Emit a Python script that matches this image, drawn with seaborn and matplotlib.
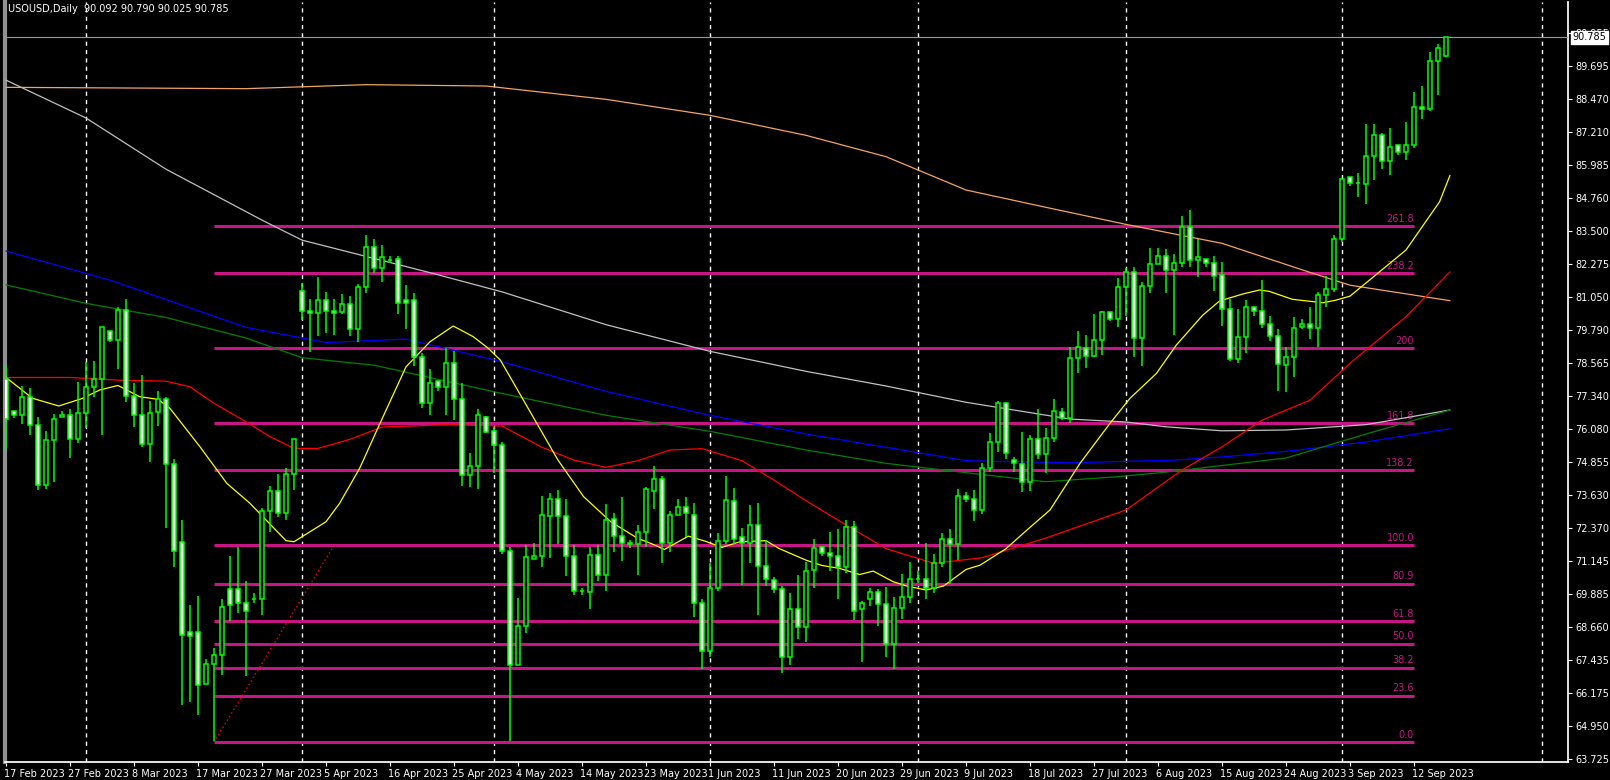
import pandas as pd
import numpy as np
import matplotlib
matplotlib.use('Agg')
import matplotlib.pyplot as plt
import matplotlib.transforms as mtransforms
import seaborn as sns

# estilo escuro tipo metatrader
sns.set_theme(style='dark', rc={'axes.facecolor': 'black', 'figure.facecolor': 'black'})
plt.rcParams['font.family'] = ['DejaVu Sans']

# --- dados (barras diárias, 17 fev -> 17 set 2023) ---
opens = [77.98, 76.77, 76.63, 77.27, 76.22, 73.97, 75.66, 76.52, 76.63, 75.73,
         76.67, 77.68, 77.98, 79.75, 79.41, 80.54, 77.31, 76.63, 75.51, 76.74,
         77.20, 74.76, 71.84, 68.46, 68.46, 66.51, 67.26, 67.63, 70.07, 70.07,
         69.56, 69.71, 69.71, 73.01, 73.75, 72.92, 74.40, 81.28, 80.50, 80.42,
         80.91, 80.50, 80.46, 80.76, 79.82, 81.40, 82.90, 82.11, 82.42, 82.45,
         80.92, 80.91, 78.80, 77.05, 77.87, 77.65, 78.55, 77.20, 74.35, 74.69,
         76.52, 76.00, 75.47, 71.51, 67.22, 68.70, 71.23, 71.31, 72.84, 73.48,
         72.81, 71.31, 70.03, 69.99, 71.35, 70.60, 72.70, 72.06, 71.83, 71.76,
         72.23, 73.78, 74.20, 71.80, 72.88, 73.18, 72.85, 69.55, 67.75, 70.11,
         71.87, 73.37, 72.02, 71.80, 72.47, 70.94, 70.41, 70.07, 67.52, 69.32,
         68.65, 70.79, 71.65, 71.42, 71.31, 70.90, 72.43, 69.32, 69.73, 69.96,
         69.51, 68.01, 69.36, 69.77, 70.45, 70.45, 70.11, 71.08, 71.95, 71.76,
         73.56, 73.48, 73.05, 74.61, 75.59, 77.05, 74.91, 74.76, 74.09, 75.70,
         75.14, 75.74, 76.71, 76.49, 78.74, 79.11, 78.81, 79.41, 80.46, 80.20,
         81.40, 81.96, 79.49, 81.44, 82.26, 82.56, 82.04, 82.30, 83.65, 82.41,
         82.48, 82.30, 81.85, 80.57, 78.73, 79.52, 80.68, 80.50, 80.01, 79.56,
         78.47, 78.77, 79.90, 80.01, 79.86, 81.10, 81.32, 83.20, 85.52, 85.32,
         85.28, 86.31, 87.13, 86.12, 86.72, 86.46, 86.72, 88.15, 88.07, 89.87,
         90.092]
highs = [78.48, 76.77, 77.70, 77.61, 76.53, 76.01, 76.65, 76.76, 76.82, 77.85,
         78.61, 78.63, 79.90, 79.75, 80.65, 80.95, 77.80, 78.10, 77.15, 77.51,
         77.27, 74.98, 72.67, 69.48, 69.82, 67.46, 67.88, 69.73, 71.32, 71.67,
         70.39, 69.92, 73.11, 73.95, 74.40, 74.61, 75.73, 81.55, 80.95, 81.77,
         81.21, 80.95, 81.15, 81.07, 81.52, 83.36, 83.23, 82.98, 82.57, 82.57,
         81.48, 81.17, 78.92, 78.33, 77.87, 79.11, 79.01, 77.82, 75.17, 76.82,
         76.57, 76.17, 75.60, 71.67, 69.76, 71.73, 71.80, 73.57, 73.67, 73.80,
         73.45, 71.72, 70.12, 71.65, 71.72, 73.27, 72.92, 73.55, 71.91, 72.47,
         73.90, 74.70, 74.32, 73.03, 73.46, 73.52, 73.33, 69.70, 71.08, 72.17,
         74.32, 73.87, 72.36, 73.23, 73.31, 71.92, 70.52, 70.20, 69.92, 70.60,
         71.11, 71.98, 71.65, 72.21, 72.32, 72.66, 72.62, 69.62, 70.12, 70.07,
         70.15, 69.78, 70.65, 71.10, 70.77, 71.81, 71.40, 72.17, 72.32, 73.83,
         73.72, 73.80, 74.80, 75.92, 77.14, 77.11, 75.05, 75.97, 75.85, 76.84,
         76.11, 77.20, 76.86, 79.15, 79.75, 79.60, 80.39, 80.50, 80.46, 81.74,
         82.11, 82.15, 81.59, 82.86, 82.86, 82.82, 82.64, 84.06, 84.29, 83.20,
         82.48, 82.56, 82.35, 80.96, 80.58, 80.92, 80.68, 81.67, 80.31, 79.82,
         79.16, 80.27, 80.23, 80.68, 81.22, 81.82, 83.36, 85.48, 85.52, 85.67,
         87.52, 87.52, 87.17, 87.37, 86.72, 87.60, 88.72, 88.95, 90.22, 90.52,
         90.790]
lows = [75.30, 76.51, 76.27, 75.86, 73.80, 73.84, 74.11, 76.52, 75.01, 75.55,
        76.11, 77.27, 75.86, 79.36, 78.35, 77.11, 76.17, 75.40, 74.86, 76.21,
        72.38, 70.90, 65.73, 65.86, 65.36, 66.51, 64.37, 66.88, 68.88, 69.17,
        66.84, 69.55, 69.13, 72.21, 72.80, 72.67, 73.80, 80.17, 78.96, 79.57,
        79.70, 79.61, 80.40, 79.58, 79.36, 81.20, 81.92, 81.61, 82.30, 80.40,
        79.85, 78.46, 76.88, 76.61, 77.52, 76.61, 76.42, 73.96, 73.92, 73.82,
        75.92, 74.42, 71.40, 64.40, 67.22, 68.42, 71.23, 70.92, 71.26, 71.76,
        70.58, 69.86, 69.86, 69.35, 70.40, 70.02, 71.48, 71.15, 71.61, 70.61,
        71.65, 73.07, 71.07, 71.48, 72.88, 72.02, 69.05, 67.07, 67.55, 70.02,
        71.76, 71.76, 70.22, 71.07, 69.12, 70.21, 69.95, 66.92, 67.23, 68.22,
        68.11, 70.13, 71.32, 70.77, 69.72, 70.67, 68.92, 67.36, 69.46, 68.71,
        67.55, 67.10, 68.98, 69.57, 70.30, 69.72, 69.92, 70.90, 70.27, 71.17,
        73.35, 72.62, 72.90, 74.49, 75.21, 74.98, 74.49, 73.73, 73.77, 74.96,
        74.45, 75.61, 76.42, 76.30, 78.17, 78.39, 78.77, 78.88, 80.15, 79.90,
        80.34, 78.80, 78.46, 81.20, 82.26, 81.20, 79.61, 82.17, 82.15, 81.77,
        82.15, 81.25, 79.96, 78.65, 78.55, 78.95, 80.33, 79.88, 79.37, 77.52,
        77.49, 78.02, 79.82, 79.45, 79.17, 80.65, 81.21, 83.11, 85.21, 84.80,
        84.53, 85.43, 85.85, 85.62, 86.38, 86.18, 86.63, 87.70, 88.02, 88.60,
        90.025]
closes = [76.48, 76.63, 77.27, 76.22, 73.97, 75.66, 76.48, 76.63, 75.73, 76.67,
          77.68, 77.98, 79.90, 79.41, 80.54, 77.31, 76.63, 75.51, 76.67, 77.20,
          74.76, 71.51, 68.35, 68.31, 66.47, 67.26, 67.63, 69.43, 69.48, 69.56,
          69.26, 69.71, 73.01, 73.75, 72.92, 74.40, 75.73, 80.50, 80.42, 80.91,
          80.50, 80.42, 80.76, 79.82, 81.40, 82.90, 82.11, 82.52, 82.42, 80.80,
          80.80, 78.80, 77.05, 77.83, 77.65, 78.55, 77.20, 74.35, 74.69, 76.60,
          75.96, 75.47, 71.51, 67.22, 68.70, 71.27, 71.32, 72.88, 73.48, 72.81,
          71.31, 70.03, 70.03, 71.35, 70.60, 72.66, 72.06, 71.83, 71.76, 72.21,
          73.82, 74.20, 71.80, 72.88, 73.18, 72.92, 69.55, 67.77, 70.11, 71.87,
          73.41, 71.98, 71.80, 72.47, 70.94, 70.45, 70.07, 67.52, 69.32, 68.68,
          70.75, 71.61, 71.42, 71.31, 70.90, 72.43, 69.28, 69.55, 69.96, 69.51,
          68.01, 69.36, 69.77, 70.45, 70.45, 70.11, 71.08, 71.95, 71.76, 73.56,
          73.48, 73.05, 74.61, 75.59, 77.05, 75.17, 74.80, 74.09, 75.70, 75.14,
          75.74, 76.75, 76.49, 78.74, 79.15, 78.81, 79.41, 80.46, 80.20, 81.40,
          81.96, 79.49, 81.44, 82.26, 82.56, 82.04, 82.30, 83.65, 82.41, 82.52,
          82.30, 81.81, 80.57, 78.73, 79.52, 80.65, 80.50, 80.01, 79.56, 78.51,
          78.77, 79.86, 80.01, 79.86, 81.10, 81.32, 83.20, 85.48, 85.33, 85.32,
          86.31, 87.13, 86.12, 86.68, 86.46, 86.72, 88.15, 88.07, 89.87, 90.36,
          90.785]

# médias móveis (lidas em alguns pontos do gráfico)
ma_yellow_x = [0, 3.3, 6.6, 9.6, 11.7, 14, 16.7, 19, 20.5, 24.25, 27.6, 30.5, 35, 36, 40,
               41.7, 44.2, 46.75, 50, 53, 55.9, 58.4, 60.3, 61.8, 69, 72.2, 75.6, 79, 80.6,
               82.3, 85.3, 87.4, 89.5, 91.75, 95, 96.6, 100, 102, 104.2, 106.7, 108.4, 110.9,
               112.6, 115, 117.2, 120, 121.75, 125, 128, 130.5, 134.25, 138, 140.5, 143.8,
               146.3, 149.6, 151.7, 154.6, 156.7, 157.9, 160.8, 162.9, 164.6, 166.25, 168,
               175, 179.2, 180.5]
ma_yellow_y = [78.02, 77.24, 76.95, 77.24, 77.55, 77.72, 77.30, 77.20, 76.86, 75.42, 74.05,
               73.30, 71.90, 71.86, 72.61, 73.30, 74.61, 76.30, 78.42, 79.36, 79.95, 79.55,
               79.11, 78.67, 74.92, 73.55, 72.61, 71.98, 71.80, 71.57, 72.07, 71.88, 71.65,
               71.86, 71.90, 71.61, 71.17, 70.97, 70.86, 70.63, 70.76, 70.36, 70.20, 70.05,
               70.20, 70.82, 70.98, 71.60, 72.40, 73.05, 74.80, 76.30, 77.24, 78.17, 79.24,
               80.36, 80.89, 81.15, 81.30, 81.25, 80.95, 80.88, 80.82, 80.92, 81.07, 82.80,
               84.61, 85.60]
ma_red_x = [0, 8, 14, 20, 23, 26, 30, 33, 36, 39, 43, 47, 55, 62, 67, 71, 75, 79, 83, 87,
            92, 96, 100, 104, 110, 116, 122, 130, 140, 147, 152, 157, 163, 168, 175, 180.5]
ma_red_y = [78.02, 78.02, 77.92, 77.88, 77.67, 77.05, 76.36, 75.80, 75.36, 75.36, 75.70,
            76.16, 76.25, 76.20, 75.40, 74.92, 74.65, 74.90, 75.30, 75.35, 74.90, 74.17,
            73.40, 72.67, 71.60, 71.05, 71.26, 72.00, 73.05, 74.55, 75.42, 76.42, 77.17,
            78.55, 80.30, 81.98]
ma_green_x = [0, 10, 20, 30, 37, 46, 62, 75, 88, 100, 110, 120, 130, 139, 145, 152, 160, 170, 180.5]
ma_green_y = [81.49, 80.80, 80.27, 79.50, 78.76, 78.48, 77.42, 76.60, 76.00, 75.30, 74.80,
              74.45, 74.11, 74.30, 74.47, 74.72, 75.00, 75.90, 76.80]
ma_blue_x = [0, 13, 30, 40, 50, 62, 75, 88, 100, 110, 120, 133, 146, 152, 160, 170, 180.5]
ma_blue_y = [82.76, 81.67, 79.90, 79.33, 79.46, 78.61, 77.50, 76.60, 75.90, 75.40, 74.90,
             74.82, 74.92, 75.04, 75.25, 75.60, 76.10]
ma_white_x = [0, 10, 20, 32, 37, 53, 62, 75, 88, 100, 110, 120, 133, 140, 145, 152, 160, 170, 180.5]
ma_white_y = [89.17, 87.75, 85.83, 83.92, 83.17, 81.95, 81.23, 80.00, 79.00, 78.25, 77.70,
              77.09, 76.46, 76.35, 76.17, 76.02, 76.05, 76.25, 76.80]
ma_orange_x = [0, 30, 45, 60, 75, 88, 100, 110, 120, 130, 140, 152, 163, 168, 180.5]
ma_orange_y = [88.90, 88.85, 89.00, 88.95, 88.45, 87.85, 87.10, 86.30, 85.05, 84.40, 83.76,
               83.05, 81.96, 81.48, 80.90]

# níveis de fibonacci
fib_labels = ['0.0', '23.6', '38.2', '50.0', '61.8', '80.9', '100.0',
              '138.2', '161.8', '200', '238.2', '261.8']
fib_prices = [64.35, 66.09, 67.14, 68.04, 68.90, 70.29, 71.72,
              74.56, 76.31, 79.13, 81.95, 83.70]

# ticks do eixo de preço
price_ticks = [63.725, 64.950, 66.175, 67.435, 68.660, 69.885, 71.145, 72.370, 73.630,
               74.855, 76.080, 77.340, 78.565, 79.790, 81.050, 82.275, 83.500, 84.760,
               85.985, 87.210, 88.470, 89.695, 90.955]
last_price = 90.785
header = 'USOUSD,Daily  90.092 90.790 90.025 90.785'

# datas das barras (domingo a sexta, sem a sexta-feira santa)
all_days = pd.date_range('2023-02-17', '2023-10-10')
bar_dates = all_days[(all_days.dayofweek != 5) & (all_days != pd.Timestamp('2023-04-07'))]
n = len(closes)
idx = np.arange(n)

fig = plt.figure(figsize=(16.1, 7.8), dpi=100)
ax = fig.add_axes([5 / 1610, 18 / 780, 1563 / 1610, 760 / 780])
ax.set_facecolor('black')

# linhas de separação mensal
month_first = [i for i in range(1, len(bar_dates)) if bar_dates[i].month != bar_dates[i - 1].month]
for i in month_first:
    ax.axvline(i, color='white', lw=1.0, ls=(0, (3, 3)), zorder=1)

# fibonacci
ax.hlines(fib_prices, 26, 176, color='#C71585', lw=2.2, zorder=2)
for lab, p in zip(fib_labels, fib_prices):
    ax.text(176, p + 0.08, lab, color='#C71585', fontsize=7, ha='right', va='bottom', zorder=3)
ax.plot([26, 41], [fib_prices[0], fib_prices[6]], color='red', lw=1, ls=(0, (1, 2)), zorder=2)

# médias móveis
for xs, ys, col in [(ma_orange_x, ma_orange_y, '#F4A460'), (ma_white_x, ma_white_y, '#C0C0C0'),
                    (ma_blue_x, ma_blue_y, '#0000FF'), (ma_green_x, ma_green_y, '#008000'),
                    (ma_red_x, ma_red_y, '#FF0000'), (ma_yellow_x, ma_yellow_y, '#FFFF00')]:
    sns.lineplot(x=xs, y=ys, color=col, lw=0.9, ax=ax, zorder=4)

# preço atual
ax.axhline(last_price, color='#8A9AAA', lw=0.8, zorder=3)

# candles
opens_a = np.array(opens)
closes_a = np.array(closes)
bull = closes_a >= opens_a
ax.vlines(idx, lows, highs, color='#00FF00', lw=1.1, zorder=5)
body_lo = np.minimum(opens_a, closes_a)
body_h = np.abs(closes_a - opens_a)
ax.bar(idx, body_h, bottom=body_lo, width=0.62,
       color=np.where(bull, 'black', 'white'), edgecolor='#00FF00', linewidth=1.1, zorder=6)

# eixos
ax.set_xlim(-0.125, 195.25)
ax.set_ylim(63.60, 92.10)
ax.yaxis.tick_right()
ax.set_yticks(price_ticks)
ax.set_yticklabels([f'{t:.3f}' for t in price_ticks])
tick_pos = list(range(0, n, 8))
ax.set_xticks(tick_pos)
ax.set_xticklabels([f'{bar_dates[i].day} {bar_dates[i]:%b %Y}' for i in tick_pos], ha='left')
ax.tick_params(axis='both', colors='white', labelcolor='white', labelsize=7,
               length=3, width=0.8, direction='out', pad=2, bottom=True, right=True)
offset = mtransforms.ScaledTranslation(-2 / 100, 0, fig.dpi_scale_trans)
for lab in ax.get_xticklabels():
    lab.set_transform(lab.get_transform() + offset)
ax.spines['top'].set_visible(False)
ax.spines['right'].set_color('white')
ax.spines['bottom'].set_color('white')
ax.spines['left'].set_color('#909090')
ax.spines['left'].set_linewidth(3)
ax.grid(False)
ax.set_xlabel('')
ax.set_ylabel('')

# caixa do último preço
trans = mtransforms.blended_transform_factory(ax.transAxes, ax.transData)
ax.text(1.003, last_price, f'{last_price:.3f}', transform=trans, fontsize=7, color='black',
        va='center', ha='left', zorder=10, clip_on=False,
        bbox=dict(boxstyle='square,pad=0.15', facecolor='white', edgecolor='white'))

ax.text(0.002, 0.997, header, transform=ax.transAxes, color='white', fontsize=7,
        ha='left', va='top')

fig.savefig('out.png', dpi=100, facecolor='black')
